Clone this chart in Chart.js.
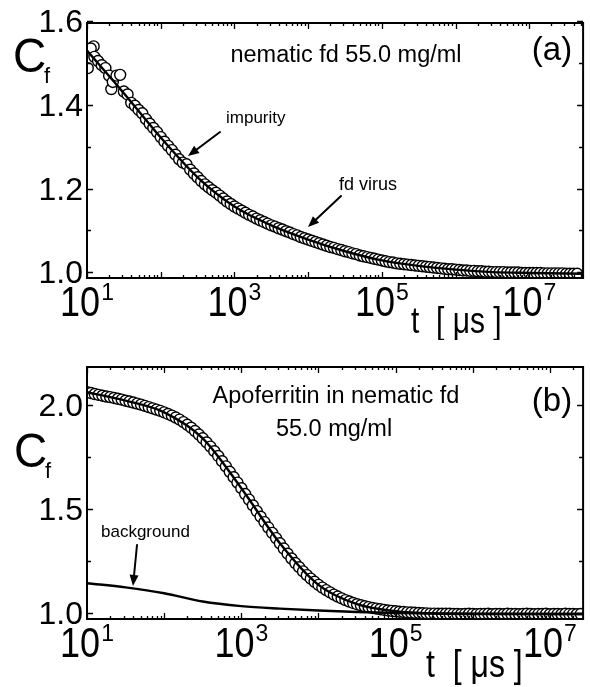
<!DOCTYPE html>
<html>
<head>
<meta charset="utf-8">
<script src="https://cdn.jsdelivr.net/npm/chart.js@4.4.1/dist/chart.umd.min.js"></script>
<style>
  body { margin: 0; background: #fff; }
  #wrap { position: relative; width: 590px; height: 687px; }
  canvas { position: absolute; left: 0; }
  #chartA { top: 0; }
  #chartB { top: 340px; }
</style>
</head>
<body>
<div id="wrap">
  <canvas id="chartA" width="590" height="340"></canvas>
  <canvas id="chartB" width="590" height="347"></canvas>
</div>
<script>
// panel (a): nematic fd 55.0 mg/ml  (time given as log10 of t in microseconds)
const logTimeA = [1.01, 1.09, 1.33,
  1.05, 1.10, 1.15, 1.20, 1.25, 1.30, 1.35, 1.40, 1.45, 1.50,
  1.55, 1.60, 1.65, 1.70, 1.75, 1.80, 1.85, 1.90, 1.95, 2.00,
  2.05, 2.10, 2.15, 2.20, 2.25, 2.30, 2.35, 2.40, 2.45, 2.50,
  2.55, 2.60, 2.65, 2.70, 2.75, 2.80, 2.85, 2.90, 2.95, 3.00,
  3.05, 3.10, 3.15, 3.20, 3.25, 3.30, 3.35, 3.40, 3.45, 3.50,
  3.55, 3.60, 3.65, 3.70, 3.75, 3.80, 3.85, 3.90, 3.95, 4.00,
  4.05, 4.10, 4.15, 4.20, 4.25, 4.30, 4.35, 4.40, 4.45, 4.50,
  4.55, 4.60, 4.65, 4.70, 4.75, 4.80, 4.85, 4.90, 4.95, 5.00,
  5.05, 5.10, 5.15, 5.20, 5.25, 5.30, 5.35, 5.40, 5.45, 5.50,
  5.55, 5.60, 5.65, 5.70, 5.75, 5.80, 5.85, 5.90, 5.95, 6.00,
  6.05, 6.10, 6.15, 6.20, 6.25, 6.30, 6.35, 6.40, 6.45, 6.50,
  6.55, 6.60, 6.65, 6.70, 6.75, 6.80, 6.85, 6.90, 6.95, 7.00,
  7.05, 7.10, 7.15, 7.20, 7.25, 7.30, 7.35, 7.40, 7.45, 7.50,
  7.55, 7.60, 7.65];
const corrA = [1.488, 1.540, 1.438,
  1.535, 1.515, 1.505, 1.495, 1.488, 1.470, 1.455, 1.470, 1.472, 1.432,
  1.425, 1.405, 1.398, 1.388, 1.380, 1.366, 1.355, 1.345, 1.335, 1.323,
  1.312, 1.302, 1.292, 1.281, 1.270, 1.262, 1.258, 1.245, 1.236, 1.227,
  1.218, 1.210, 1.203, 1.196, 1.190, 1.183, 1.176, 1.169, 1.163, 1.157,
  1.152, 1.147, 1.142, 1.137, 1.133, 1.128, 1.124, 1.120, 1.116, 1.112,
  1.109, 1.105, 1.102, 1.098, 1.095, 1.091, 1.088, 1.084, 1.081, 1.078,
  1.075, 1.072, 1.069, 1.066, 1.063, 1.060, 1.058, 1.055, 1.053, 1.050,
  1.048, 1.045, 1.043, 1.040, 1.038, 1.036, 1.034, 1.032, 1.030, 1.028,
  1.026, 1.024, 1.023, 1.021, 1.020, 1.019, 1.018, 1.017, 1.016, 1.015,
  1.014, 1.013, 1.012, 1.011, 1.010, 1.009, 1.008, 1.007, 1.007, 1.006,
  1.005, 1.004, 1.004, 1.003, 1.003, 1.002, 1.002, 1.001, 1.001, 1.000,
  1.000, 1.000, 1.000, 0.999, 0.999, 0.999, 0.999, 0.998, 0.998, 0.998,
  0.998, 0.998, 0.998, 0.997, 0.997, 0.997, 0.997, 0.997, 0.997, 0.996,
  0.996, 0.996, 0.996];
const fitLogTimeA = [1.0, 1.5, 2.0, 2.5, 3.0, 3.5, 4.0, 4.5, 5.0, 5.5, 6.0, 6.5, 7.0, 7.73];
const fitA = [1.530, 1.428, 1.322, 1.227, 1.157, 1.112, 1.078, 1.050, 1.028, 1.015, 1.006, 1.000, 0.998, 0.996];

// panel (b): apoferritin in nematic fd 55.0 mg/ml
const logTimeB = [1.00, 1.05, 1.10, 1.15, 1.20, 1.25, 1.30, 1.35, 1.40, 1.45,
  1.50, 1.55, 1.60, 1.65, 1.70, 1.75, 1.80, 1.85, 1.90, 1.95,
  2.00, 2.05, 2.10, 2.15, 2.20, 2.25, 2.30, 2.35, 2.40, 2.45,
  2.50, 2.55, 2.60, 2.65, 2.70, 2.75, 2.80, 2.85, 2.90, 2.95,
  3.00, 3.05, 3.10, 3.15, 3.20, 3.25, 3.30, 3.35, 3.40, 3.45,
  3.50, 3.55, 3.60, 3.65, 3.70, 3.75, 3.80, 3.85, 3.90, 3.95,
  4.00, 4.05, 4.10, 4.15, 4.20, 4.25, 4.30, 4.35, 4.40, 4.45,
  4.50, 4.55, 4.60, 4.65, 4.70, 4.75, 4.80, 4.85, 4.90, 4.95,
  5.00, 5.05, 5.10, 5.15, 5.20, 5.25, 5.30, 5.35, 5.40, 5.45,
  5.50, 5.55, 5.60, 5.65, 5.70, 5.75, 5.80, 5.85, 5.90, 5.95,
  6.00, 6.05, 6.10, 6.15, 6.20, 6.25, 6.30, 6.35, 6.40, 6.45,
  6.50, 6.55, 6.60, 6.65, 6.70, 6.75, 6.80, 6.85, 6.90, 6.95,
  7.00, 7.05, 7.10, 7.15, 7.20, 7.25, 7.30, 7.35, 7.40];
const corrB = [2.062, 2.058, 2.053, 2.049, 2.045, 2.041, 2.038, 2.034, 2.030, 2.026,
  2.021, 2.017, 2.012, 2.007, 2.002, 1.996, 1.990, 1.984, 1.978, 1.972,
  1.965, 1.957, 1.949, 1.940, 1.930, 1.918, 1.905, 1.891, 1.875, 1.858,
  1.840, 1.820, 1.800, 1.778, 1.755, 1.730, 1.705, 1.679, 1.653, 1.627,
  1.600, 1.572, 1.545, 1.517, 1.490, 1.463, 1.437, 1.411, 1.385, 1.360,
  1.335, 1.310, 1.285, 1.262, 1.240, 1.220, 1.200, 1.182, 1.165, 1.150,
  1.135, 1.122, 1.110, 1.099, 1.088, 1.079, 1.070, 1.062, 1.055, 1.048,
  1.042, 1.037, 1.032, 1.028, 1.024, 1.021, 1.018, 1.015, 1.012, 1.010,
  1.008, 1.006, 1.005, 1.003, 1.002, 1.001, 1.000, 0.999, 0.998, 0.997,
  0.997, 0.996, 0.996, 0.996, 0.996, 0.995, 0.995, 0.994, 0.995, 0.996,
  0.995, 0.994, 0.995, 0.995, 0.996, 0.994, 0.995, 0.995, 0.994, 0.996,
  0.995, 0.995, 0.994, 0.995, 0.996, 0.995, 0.994, 0.995, 0.995, 0.996,
  0.994, 0.995, 0.995, 0.994, 0.996, 0.995, 0.995, 0.994, 0.995];
const fitLogTimeB = [1.0, 1.5, 2.0, 2.5, 3.0, 3.5, 4.0, 4.5, 5.0, 5.5, 6.0, 7.43];
const fitB = [2.062, 2.021, 1.965, 1.840, 1.600, 1.335, 1.135, 1.042, 1.008, 0.997, 0.995, 0.995];
const bgLogTimeB = [1.0, 1.5, 2.0, 2.5, 3.0, 3.5, 4.0, 4.5, 5.0, 6.0, 7.0, 7.43];
const backgroundB = [1.143, 1.123, 1.095, 1.055, 1.033, 1.021, 1.012, 1.005, 1.000, 0.996, 0.995, 0.995];

const xTickExponents = [1, 3, 5, 7];
const yTicksA = [1.0, 1.2, 1.4, 1.6];
const yMinorA = [1.1, 1.3, 1.5];
const yTicksB = [1.0, 1.5, 2.0];
const yMinorB = [1.25, 1.75];

const FONT = '"Liberation Sans", Arial, Helvetica, sans-serif';

function toPoints(logs, vals) {
  return logs.map((e, i) => ({ x: Math.pow(10, e), y: vals[i] }));
}

function text(ctx, s, x, y, size, align, sy) {
  ctx.save();
  ctx.font = size + 'px ' + FONT;
  ctx.textAlign = align || 'left';
  ctx.textBaseline = 'alphabetic';
  ctx.translate(x, y);
  ctx.scale(1, sy || 1);
  ctx.fillText(s, 0, 0);
  ctx.restore();
}

function arrow(ctx, x1, y1, x2, y2) {
  const ang = Math.atan2(y2 - y1, x2 - x1);
  const len = 11, hw = 4.5;
  ctx.lineWidth = 2;
  ctx.beginPath();
  ctx.moveTo(x1, y1);
  ctx.lineTo(x2 - Math.cos(ang) * len * 0.8, y2 - Math.sin(ang) * len * 0.8);
  ctx.stroke();
  ctx.beginPath();
  ctx.moveTo(x2, y2);
  ctx.lineTo(x2 - Math.cos(ang) * len - Math.sin(ang) * hw, y2 - Math.sin(ang) * len + Math.cos(ang) * hw);
  ctx.lineTo(x2 - Math.cos(ang) * len + Math.sin(ang) * hw, y2 - Math.sin(ang) * len - Math.cos(ang) * hw);
  ctx.closePath();
  ctx.fill();
}

function decor(cfg) {
  return {
    id: 'decor',
    afterDraw(chart) {
      const ctx = chart.ctx, a = chart.chartArea;
      const xs = chart.scales.x, ys = chart.scales.y;
      ctx.save();
      ctx.strokeStyle = '#000';
      ctx.fillStyle = '#000';

      // frame
      ctx.lineWidth = 2;
      ctx.strokeRect(a.left, a.top, a.right - a.left, a.bottom - a.top);

      // inward ticks, log x (top and bottom)
      ctx.lineWidth = 1.3;
      ctx.beginPath();
      for (let d = 1; d <= 7; d++) {
        for (let k = 1; k <= 9; k++) {
          const v = k * Math.pow(10, d);
          if (v < xs.min || v > xs.max) continue;
          const px = Math.round(xs.getPixelForValue(v)) + 0.5;
          const len = k === 1 ? 6 : 3;
          ctx.moveTo(px, a.bottom); ctx.lineTo(px, a.bottom - len);
          ctx.moveTo(px, a.top); ctx.lineTo(px, a.top + len);
        }
      }
      // y ticks (left and right)
      cfg.yTicks.concat(cfg.yMinor).forEach(v => {
        const py = Math.round(ys.getPixelForValue(v)) + 0.5;
        const len = cfg.yTicks.includes(v) ? 6 : 4;
        ctx.moveTo(a.left, py); ctx.lineTo(a.left + len, py);
        ctx.moveTo(a.right, py); ctx.lineTo(a.right - len, py);
      });
      ctx.stroke();

      // y tick labels
      cfg.yTicks.forEach(v => {
        text(ctx, v.toFixed(1), a.left - 4, ys.getPixelForValue(v) + 11, 32, 'right');
      });

      // x tick labels 10^n
      const yb = a.bottom + 38;
      xTickExponents.forEach(n => {
        const px = xs.getPixelForValue(Math.pow(10, n));
        ctx.font = '36px ' + FONT;
        const w1 = ctx.measureText('10').width;
        ctx.font = '23px ' + FONT;
        const w2 = ctx.measureText(String(n)).width;
        const x0 = px - (w1 + 1 + w2) / 2;
        text(ctx, '10', x0, yb, 36, 'left', 1.17);
        text(ctx, String(n), x0 + w1 + 1, yb - 16, 23, 'left');
      });

      // axis titles
      text(ctx, 'C', cfg.cf[0], cfg.cf[1], 46, 'left', 1.05);
      text(ctx, 'f', cfg.cf[0] + 31, cfg.cf[1] + 11, 22, 'left');
      text(ctx, 't  [ \u03bcs ]', cfg.tLabel[0], cfg.tLabel[1], cfg.tLabel[2], 'left', 1.2);

      // annotations
      cfg.notes.forEach(t => text(ctx, t[0], t[1], t[2], t[3], t[4], t[5]));
      ctx.lineCap = 'round';
      cfg.arrows.forEach(r => arrow(ctx, r[0], r[1], r[2], r[3]));
      ctx.restore();
    }
  };
}

function makePanel(id, cfg) {
  return new Chart(document.getElementById(id), {
    type: 'scatter',
    data: { datasets: cfg.datasets },
    options: {
      responsive: false,
      animation: false,
      events: [],
      layout: { padding: cfg.padding },
      plugins: { legend: { display: false }, tooltip: { enabled: false } },
      scales: {
        x: {
          type: 'logarithmic', min: cfg.xMin, max: cfg.xMax,
          grid: { display: false }, border: { display: false },
          ticks: { display: false },
          afterFit: s => { s.height = 0; }
        },
        y: {
          type: 'linear', min: cfg.yMin, max: cfg.yMax,
          grid: { display: false }, border: { display: false },
          ticks: { display: false },
          afterFit: s => { s.width = 0; }
        }
      }
    },
    plugins: [decor(cfg)]
  });
}

const lineStyle = { showLine: true, pointRadius: 0, borderColor: '#000', borderWidth: 2.4,
  cubicInterpolationMode: 'monotone', clip: 0, order: 0 };
const circleStyle = { showLine: false, pointRadius: 5.5, pointBorderWidth: 1.4,
  pointBackgroundColor: '#fff', pointBorderColor: '#000', clip: 0, order: 1 };

makePanel('chartA', {
  padding: { left: 87, right: 5, top: 23, bottom: 62 },
  xMin: 10, xMax: Math.pow(10, 7.73), yMin: 0.986, yMax: 1.596,
  yTicks: yTicksA, yMinor: yMinorA,
  cf: [13, 72], tLabel: [411, 333, 30],
  datasets: [
    Object.assign({ data: toPoints(fitLogTimeA, fitA) }, lineStyle),
    Object.assign({ data: toPoints(logTimeA, corrA) }, circleStyle)
  ],
  notes: [
    ['nematic fd 55.0 mg/ml', 346, 62, 23.5, 'center'],
    ['(a)', 552, 60, 33, 'center'],
    ['impurity', 226, 123, 17, 'left'],
    ['fd virus', 339, 190, 18, 'left']
  ],
  arrows: [[220, 132, 188, 156], [341, 196, 308, 227]]
});

makePanel('chartB', {
  padding: { left: 87, right: 5, top: 27, bottom: 68 },
  xMin: 10, xMax: Math.pow(10, 7.43), yMin: 0.971, yMax: 2.183,
  yTicks: yTicksB, yMinor: yMinorB,
  cf: [14, 127], tLabel: [426, 337, 32],
  datasets: [
    Object.assign({ data: toPoints(fitLogTimeB, fitB) }, lineStyle),
    Object.assign({ data: toPoints(bgLogTimeB, backgroundB) }, lineStyle),
    Object.assign({ data: toPoints(logTimeB, corrB) }, circleStyle)
  ],
  notes: [
    ['Apoferritin in nematic fd', 336, 63, 23.5, 'center'],
    ['55.0 mg/ml', 334, 96, 23.5, 'center'],
    ['(b)', 552, 71, 33, 'center'],
    ['background', 101, 197, 17, 'left']
  ],
  arrows: [[137, 205, 133, 246]]
});
</script>
</body>
</html>
